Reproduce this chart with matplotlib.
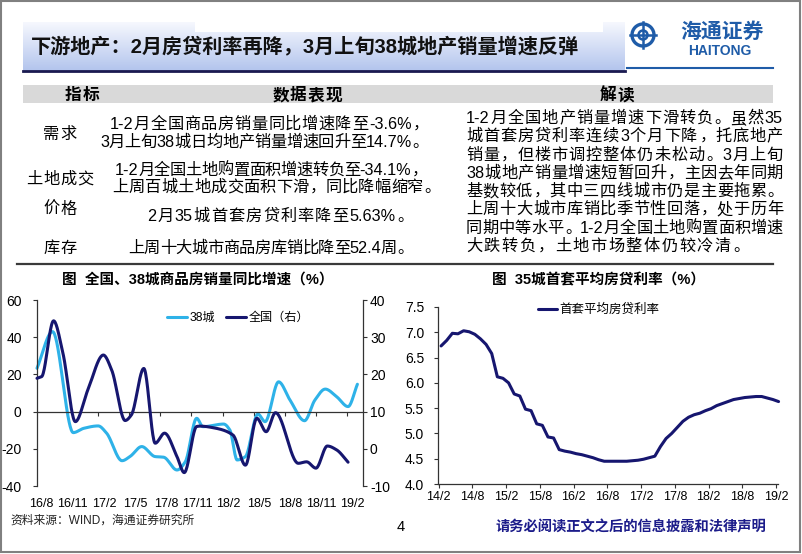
import numpy as np
import matplotlib
matplotlib.use("Agg")
import matplotlib.pyplot as plt
from matplotlib.patches import Rectangle, Circle
from matplotlib.lines import Line2D
from matplotlib.transforms import blended_transform_factory
from matplotlib.ticker import FormatStrFormatter

FAM = ["Liberation Sans", "Noto Sans CJK SC"]
plt.rcParams["font.family"] = FAM
plt.rcParams["axes.unicode_minus"] = False

# ---------------- data ----------------
title = "下游地产：2月房贷利率再降，3月上旬38城地产销量增速反弹"
table_headers = ["指标", "数据表现", "解读"]
indicators = ["需求", "土地成交", "价格", "库存"]
data_texts = [
    "1-2月全国商品房销量同比增速降至-3.6%，",
    "3月上旬38城日均地产销量增速回升至14.7%。",
    "1-2月全国土地购置面积增速转负至-34.1%，",
    "上周百城土地成交面积下滑，同比降幅缩窄。",
    "2月35城首套房贷利率降至5.63%。",
    "上周十大城市商品房库销比降至52.4周。",
]
interp_texts = [
    "1-2月全国地产销量增速下滑转负。虽然35",
    "城首套房贷利率连续3个月下降，托底地产",
    "销量，但楼市调控整体仍未松动。3月上旬",
    "38城地产销量增速短暂回升，主因去年同期",
    "基数较低，其中三四线城市仍是主要拖累。",
    "上周十大城市库销比季节性回落，处于历年",
    "同期中等水平。1-2月全国土地购置面积增速",
    "大跌转负，土地市场整体仍较冷清。",
]

chart1_title = "图  全国、38城商品房销量同比增速（%）"
chart2_title = "图  35城首套平均房贷利率（%）"
series1_name = "38城"
series2_name = "全国（右）"
series3_name = "首套平均房贷利率"

# months since 2016/8, values in %
city38_t = [0, 1.5, 3.5, 4.5, 5.9, 6.7, 8.2, 9.0, 10.1, 11.4, 12.2, 13.5, 14.3, 15.4, 16.0,
            18.0, 18.6, 19.3, 20.1, 21.3, 22.0, 23.3, 24.4, 25.8, 26.8, 27.8, 28.9, 30.0, 30.9]
city38_v = [23.3, 43.0, -11.3, -9.0, -7.7, -11.5, -26.4, -24.0, -18.8, -24.2, -24.5, -31.4, -27.0,
            -3.6, -8.1, -6.7, -9.9, -26.0, -24.2, -1.3, -5.4, 16.0, 6.2, -4.9, 6.2, 12.1, 8.0, 2.7, 14.7]
national_t = [0, 0.45, 1.6, 2.5, 3.7, 4.9, 6.4, 7.2, 8.5, 9.1, 10.3, 11.4, 12.3, 13.5, 14.2,
              15.4, 15.7, 17.3, 18.9, 20.1, 21.2, 22.1, 23.0, 25.2, 26.0, 26.9, 28.0, 28.9, 30.0]
national_v = [18.95, 19.4, 34.4, 25.7, 7.3, 15.8, 25.2, 21.2, 7.6, 9.1, 21.6, 1.5, 4.2, -2.1, -6.4,
              6.0, 6.1, 5.5, 3.7, -4.4, 8.2, 4.6, 9.7, -3.9, -3.5, -5.2, 0.75, -0.3, -3.6]
left_xlabels = ["16/8", "16/11", "17/2", "17/5", "17/8", "17/11", "18/2", "18/5", "18/8", "18/11", "19/2"]
left_yticks = [-40, -20, 0, 20, 40, 60]
right_yticks = [-10, 0, 10, 20, 30, 40]

# monthly 2014/2 .. 2019/2
rate_values = [6.73, 6.84, 6.98, 6.97, 7.03, 7.01, 6.96, 6.87, 6.76, 6.58,
               6.12, 6.09, 6.00, 5.78, 5.74, 5.48, 5.45, 5.19, 5.16, 4.93,
               4.91, 4.68, 4.65, 4.63, 4.60, 4.58, 4.55, 4.52, 4.48, 4.45,
               4.45, 4.45, 4.45, 4.45, 4.46, 4.47, 4.49, 4.52, 4.55, 4.74,
               4.90, 5.00, 5.12, 5.24, 5.32, 5.37, 5.40, 5.45, 5.49, 5.55,
               5.59, 5.63, 5.67, 5.69, 5.71, 5.72, 5.73, 5.73, 5.70, 5.67, 5.63]
rate_xlabels = ["14/2", "14/8", "15/2", "15/8", "16/2", "16/8", "17/2", "17/8", "18/2", "18/8", "19/2"]
rate_yticks = [4.0, 4.5, 5.0, 5.5, 6.0, 6.5, 7.0, 7.5]

footer_src = "资料来源：WIND，海通证券研究所"
page_no = "4"
disclaimer = "请务必阅读正文之后的信息披露和法律声明"
logo_cn = "海通证券"
logo_en = "HAITONG"

LIGHT = "#2eb2e8"
NAVY = "#16166f"
BODY = 11.7


def pchip(x, y, xs):
    x = np.asarray(x, float); y = np.asarray(y, float)
    h = np.diff(x); d = np.diff(y) / h
    n = len(x)
    m = np.zeros(n)
    for k in range(1, n - 1):
        if d[k - 1] * d[k] > 0:
            w1 = 2 * h[k] + h[k - 1]; w2 = h[k] + 2 * h[k - 1]
            m[k] = (w1 + w2) / (w1 / d[k - 1] + w2 / d[k])
    m[0] = d[0]; m[-1] = d[-1]
    idx = np.clip(np.searchsorted(x, xs) - 1, 0, n - 2)
    t = (xs - x[idx]) / h[idx]
    h00 = 2 * t**3 - 3 * t**2 + 1; h10 = t**3 - 2 * t**2 + t
    h01 = -2 * t**3 + 3 * t**2; h11 = t**3 - t**2
    return h00 * y[idx] + h10 * h[idx] * m[idx] + h01 * y[idx + 1] + h11 * h[idx] * m[idx + 1]


W, H = 802, 554
fig = plt.figure(figsize=(W / 100, H / 100), dpi=100)
bg = fig.add_axes([0, 0, 1, 1], zorder=0)
bg.axis("off")

PUNCT = set("，。：、；")


def tokens(s):
    out = []
    cur = ""
    for c in s:
        if ord(c) < 0x2000:
            cur += c
        else:
            if cur:
                out.append(cur); cur = ""
            out.append(c)
    if cur:
        out.append(cur)
    return out


def adv(tok, px):
    if ord(tok[0]) >= 0x2000:
        return px
    tab = {"-": 0.333, ".": 0.278, "%": 0.889, " ": 0.278}
    return sum(px * tab.get(c, 0.556) for c in tok)


def jtext(s, y, size, x0=None, x1=None, xc=None, gap=0.0, **kw):
    px = size * 100 / 72
    toks = tokens(s)
    ws = [adv(t, px) for t in toks]
    tot = sum(ws)
    if x0 is not None and x1 is not None and len(toks) > 1:
        gap = (x1 - x0 - tot) / (len(toks) - 1)
    full = tot + gap * (len(toks) - 1)
    if xc is not None:
        x0 = xc - full / 2
    yb = y + 0.37 * px
    x = x0
    for t, w in zip(toks, ws):
        if ord(t[0]) >= 0x2000 and t not in PUNCT:
            bg.text(x + w / 2, yb, t, fontsize=size, ha="center", va="baseline", **kw)
        else:
            bg.text(x + (1 if t in PUNCT else 0), yb, t, fontsize=size, ha="left", va="baseline", **kw)
        x += w + gap


# outer frame
bg.add_patch(Rectangle((0.8, 0.8), W - 2.6, H - 3.0, fill=False, ec="#808080", lw=1.5, zorder=1))

# title bar gradient
grad = np.linspace(0, 1, 64)[:, None]
c_top = np.array([0.965, 0.972, 0.995]); c_bot = np.array([0.70, 0.77, 0.93])
img = c_top[None, None, :] * (1 - grad[:, :, None]) + c_bot[None, None, :] * grad[:, :, None]
img = np.repeat(img, 2, axis=1)
bg.imshow(img, extent=[23, 625, 71, 22], aspect="auto", zorder=0.5, interpolation="bilinear")
bg.add_patch(Rectangle((195, 21), 408, 10.5, fc="white", ec="none", zorder=0.6))
bg.plot([23, 625], [71, 71], color="#1a1a50", lw=2.0, zorder=1)
bg.text(31, 46, title, fontsize=14.5, fontweight="bold", ha="left", va="center", color="#111111")

# logo
LB = "#1f5ca8"
bg.add_patch(Circle((643, 35), 11, fill=False, ec=LB, lw=2.4, zorder=2))
bg.add_patch(Circle((643, 35), 4.5, fill=False, ec=LB, lw=1.8, zorder=2))
bg.plot([643, 643], [22, 48], color=LB, lw=1.8)
bg.plot([630, 656], [35, 35], color=LB, lw=1.8)
bg.text(722, 32, logo_cn, fontsize=15, fontweight="bold", color=LB, ha="center", va="center")
bg.text(720, 51, logo_en, fontsize=10, fontweight="bold", color=LB, ha="center", va="center")
bg.plot([627, 773], [68, 68], color=LB, lw=1.5)

# table header band
bg.add_patch(Rectangle((23, 85), 750, 18, fc="#d9d9d9", ec="none", zorder=0.5))
jtext(table_headers[0], 94, 12, xc=82, gap=1, fontweight="bold")
jtext(table_headers[1], 94, 12, xc=307, gap=1, fontweight="bold")
jtext(table_headers[2], 94, 12, xc=617, gap=1, fontweight="bold")

# indicators
ind_y = [133, 178, 208, 247]
for s, y in zip(indicators, ind_y):
    jtext(s, y, BODY, xc=60, gap=0.8)

# data column
d_pos = [(110, 428, 123), (100, 428, 141), (115, 427, 169), (112, 440, 186), (147, 413, 215), (128, 413, 247)]
for s, (a, b, y) in zip(data_texts, d_pos):
    jtext(s, y, BODY, x0=a, x1=b)

# interpretation column
i_y = [117, 135, 154, 172, 190, 208, 227, 245]
for k, (s, y) in enumerate(zip(interp_texts, i_y)):
    if k < len(interp_texts) - 1:
        jtext(s, y, BODY, x0=466, x1=783)
    else:
        jtext(s, y, BODY, x0=466, gap=1.5)

bg.plot([17, 773], [264, 264], color="#3a3a3a", lw=1.6)

# chart titles
bg.text(198, 280, chart1_title, fontsize=10.5, fontweight="bold", ha="center", va="center")
bg.text(599, 280, chart2_title, fontsize=10.5, fontweight="bold", ha="center", va="center")

# footer
bg.text(10, 521, footer_src, fontsize=8.5, ha="left", va="center", color="#222222")
bg.text(401, 527, page_no, fontsize=10.5, ha="center", va="center")
bg.text(631, 527, disclaimer, fontsize=10.3, fontweight="bold", ha="center", va="center", color="#1c1c8a")

bg.set_xlim(0, W)
bg.set_ylim(H, 0)

# ---------------- left chart ----------------
axL = fig.add_axes([37 / W, 1 - 486 / H, 326 / W, 186 / H], zorder=2)
axL.set_facecolor("none")
axL.set_xlim(0, 31.44)
axL.set_ylim(-40, 60)
axR = axL.twinx()
axR.set_ylim(-10, 40)
axR.set_facecolor("none")

xs1 = np.linspace(city38_t[0], city38_t[-1], 600)
l1, = axL.plot(xs1, pchip(city38_t, city38_v, xs1), color=LIGHT, lw=2.2, solid_capstyle="round", clip_on=False)
xs2 = np.linspace(national_t[0], national_t[-1], 600)
l2, = axR.plot(xs2, pchip(national_t, national_v, xs2), color=NAVY, lw=2.2, solid_capstyle="round", clip_on=False)

for ax in (axL, axR):
    ax.spines["top"].set_visible(False)
for sp in ("left", "bottom"):
    axR.spines[sp].set_visible(False)
axL.spines["right"].set_visible(False)
axL.spines["bottom"].set_position(("data", 0))
for sp in ("left", "bottom"):
    axL.spines[sp].set_color("#333333"); axL.spines[sp].set_linewidth(0.9)
axR.spines["right"].set_color("#333333"); axR.spines["right"].set_linewidth(0.9)

axL.set_yticks(left_yticks)
axL.tick_params(axis="y", direction="out", length=3, pad=8, labelsize=10, color="#333333")
axR.set_yticks(right_yticks)
axR.tick_params(axis="y", direction="out", length=3, pad=2, labelsize=10, color="#333333")
tick_pos = [3 * k - 0.1 for k in range(1, 11)]
axL.set_xticks(tick_pos)
axL.set_xticklabels([""] * len(tick_pos))
axL.tick_params(axis="x", direction="out", length=3, color="#333333")
trL = blended_transform_factory(axL.transData, axL.transAxes)
for k, lab in enumerate(left_xlabels):
    axL.text(0.45 + 3 * k, -0.095, lab, transform=trL, ha="center", va="center", fontsize=9)

axR.legend([l1, l2], [series1_name, series2_name], loc="center left",
           bbox_to_anchor=((167 - 37) / 326, (486 - 318) / 186), ncol=2, frameon=False,
           fontsize=8.7, handlelength=1.65, handletextpad=0.2, columnspacing=0.9, borderpad=0,
           borderaxespad=0)

# ---------------- right chart ----------------
axP = fig.add_axes([438 / W, 1 - 484 / H, 340 / W, 177 / H], zorder=2)
axP.set_facecolor("none")
mon = np.arange(len(rate_values))
l3, = axP.plot(mon, rate_values, color=NAVY, lw=2.2, solid_capstyle="round", clip_on=False)
axP.set_xlim(-0.55, 59.9)
axP.set_ylim(4.0, 7.5)
axP.set_xticks([6 * k - 0.45 for k in range(len(rate_xlabels))])
axP.set_xticklabels(rate_xlabels)
axP.set_yticks(rate_yticks)
axP.yaxis.set_major_formatter(FormatStrFormatter("%.1f"))
axP.tick_params(axis="x", direction="out", length=3, pad=2, labelsize=9, color="#333333")
axP.tick_params(axis="y", direction="out", length=3, pad=7, labelsize=10, color="#333333")
for sp in ("top", "right"):
    axP.spines[sp].set_visible(False)
for sp in ("left", "bottom"):
    axP.spines[sp].set_color("#333333"); axP.spines[sp].set_linewidth(0.9)
axP.legend([l3], [series3_name], loc="center left",
           bbox_to_anchor=((538 - 438) / 340, (484 - 310) / 177), frameon=False,
           fontsize=9, handlelength=1.5, handletextpad=0.2, borderpad=0, borderaxespad=0)

fig.savefig("out.png", dpi=100)
